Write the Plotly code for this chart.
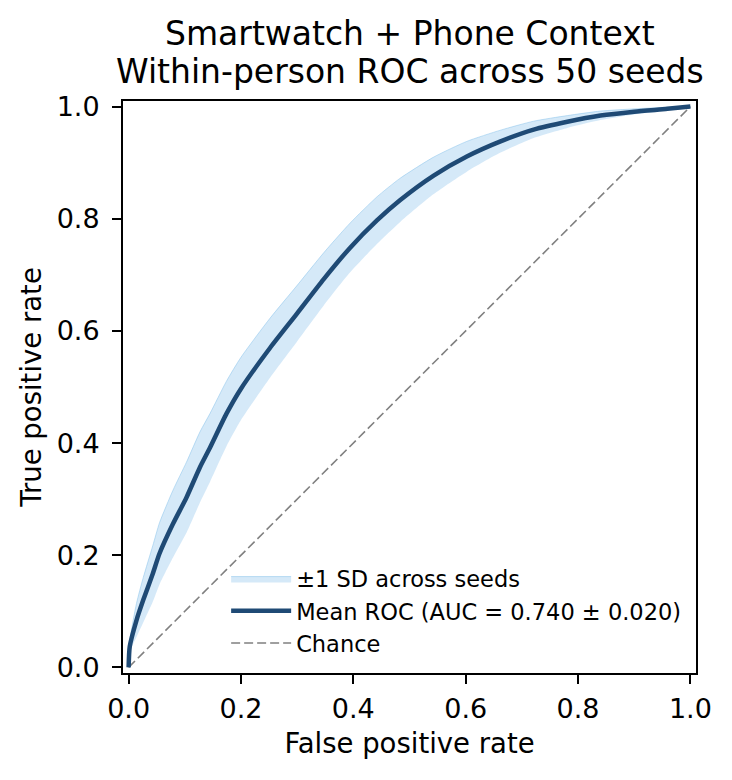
import plotly.graph_objects as go

# Data
fpr = [0.0, 0.002, 0.014, 0.026, 0.043, 0.055, 0.079, 0.103, 0.127, 0.145, 0.174, 0.2,
       0.252, 0.299, 0.347, 0.394, 0.442, 0.483, 0.543, 0.602, 0.662, 0.721, 0.781,
       0.840, 0.900, 0.959, 1.0]
mean_tpr = [0.0, 0.037, 0.084, 0.12, 0.167, 0.203, 0.256, 0.303, 0.357, 0.392, 0.452, 0.497,
            0.570, 0.630, 0.692, 0.748, 0.797, 0.833, 0.877, 0.911, 0.938, 0.959, 0.973,
            0.984, 0.991, 0.996, 1.0]
sd_tpr = [0.0, 0.01, 0.03, 0.04, 0.05, 0.055, 0.06, 0.063, 0.063, 0.061, 0.058, 0.056,
          0.053, 0.05, 0.047, 0.044, 0.042, 0.039, 0.033, 0.027, 0.02, 0.015, 0.011,
          0.008, 0.005, 0.003, 0.0]
chance = [0.0, 1.0]

title_lines = ["Smartwatch + Phone Context", "Within-person ROC across 50 seeds"]

upper = [min(1.0, m + s) for m, s in zip(mean_tpr, sd_tpr)]
lower = [max(0.0, m - s) for m, s in zip(mean_tpr, sd_tpr)]

FONT = "DejaVu Sans"
fig = go.Figure()

fig.add_trace(go.Scatter(x=fpr, y=lower, mode="lines", line=dict(width=0, shape="spline", smoothing=0.6),
                         showlegend=False, hoverinfo="skip"))
fig.add_trace(go.Scatter(x=fpr, y=upper, mode="lines", fill="tonexty",
                         fillcolor="rgba(125,188,232,0.32)",
                         line=dict(width=1, color="rgba(125,188,232,0.45)", shape="spline", smoothing=0.6),
                         name="±1 SD across seeds", legendrank=1))
fig.add_trace(go.Scatter(x=chance, y=chance, mode="lines",
                         line=dict(color="#808080", width=1.6, dash="9px,4px"),
                         name="Chance", legendrank=3))
fig.add_trace(go.Scatter(x=fpr, y=mean_tpr, mode="lines",
                         line=dict(color="#1f4a75", width=4.5, shape="spline", smoothing=0.6),
                         name="Mean ROC (AUC = 0.740 ± 0.020)", legendrank=2))

axis_common = dict(
    range=[-0.01, 1.01], tickvals=[0, 0.2, 0.4, 0.6, 0.8, 1.0], tickformat=".1f",
    showgrid=False, zeroline=False, showline=True, linecolor="black", linewidth=2,
    mirror=True, ticks="outside", ticklen=9, tickwidth=2, tickcolor="black",
    tickfont=dict(family=FONT, size=27, color="black"),
)

fig.update_layout(
    width=732, height=780,
    margin=dict(l=123, r=36, t=101, b=107),
    paper_bgcolor="white", plot_bgcolor="white",
    xaxis=dict(**axis_common, ticklabelstandoff=2,
               title=dict(text="False positive rate", standoff=10,
                          font=dict(family=FONT, size=27.5, color="black"))),
    yaxis=dict(**axis_common, ticklabelstandoff=7,
               title=dict(text="True positive rate", standoff=7,
                          font=dict(family=FONT, size=27.5, color="black"))),
    legend=dict(x=0.18, y=0.015, xanchor="left", yanchor="bottom",
                bgcolor="rgba(0,0,0,0)", traceorder="normal",
                font=dict(family=FONT, size=22.5, color="black"),
                itemwidth=60, tracegroupgap=0),
    showlegend=True,
)

for txt, yv in zip(title_lines, [1 + 67.5 / 572, 1 + 29.5 / 572]):
    fig.add_annotation(text=txt, x=0.5, xref="paper", y=yv, yref="paper",
                       xanchor="center", yanchor="middle", showarrow=False,
                       font=dict(family=FONT, size=33, color="black"))

fig.write_html("out.html")
